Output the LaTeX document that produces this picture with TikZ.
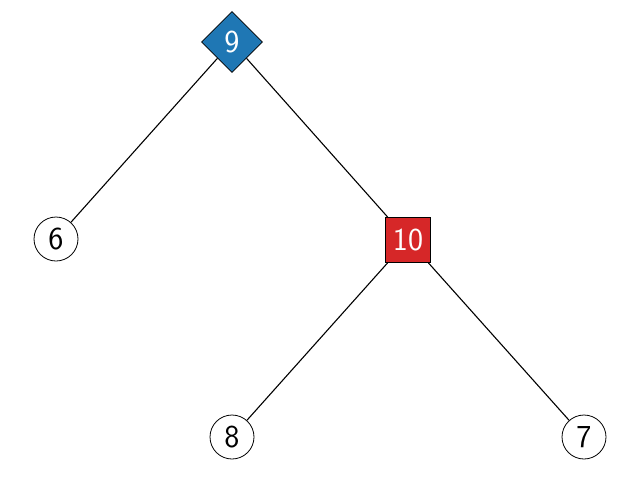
\documentclass[tikz,border=0pt]{standalone}
\usepackage{xcolor}
\usepackage{tikz}
\usetikzlibrary{shapes.geometric}

\definecolor{tabblue}{HTML}{1F77B4}
\definecolor{tabred}{HTML}{D62728}

\begin{document}
\begin{tikzpicture}[
  x=1pt, y=-1pt,
  leaf/.style={circle, draw, line width=0.8pt, fill=white, minimum size=44pt, inner sep=0pt, font=\sffamily\fontsize{32}{36}\selectfont},
  rootnode/.style={diamond, draw, line width=0.8pt, fill=tabblue, text=white, minimum width=61pt, minimum height=61pt, inner sep=0pt, font=\sffamily\fontsize{32}{36}\selectfont},
  inner/.style={rectangle, draw, line width=0.8pt, fill=tabred, text=white, minimum size=45pt, inner sep=0pt, font=\sffamily\fontsize{32}{36}\selectfont},
  edge/.style={line width=1.1pt}
]
\useasboundingbox (0,0) rectangle (640,480);

\node[rootnode] (n9) at (232,42) {9};
\node[leaf] (n6) at (56,239) {6};
\node[inner] (n10) at (408,240) {10};
\node[leaf] (n8) at (232,437) {8};
\node[leaf] (n7) at (584,437) {7};

\draw[edge] (n9) -- (n6);
\draw[edge] (n9) -- (n10);
\draw[edge] (n10) -- (n8);
\draw[edge] (n10) -- (n7);

\end{tikzpicture}
\end{document}
